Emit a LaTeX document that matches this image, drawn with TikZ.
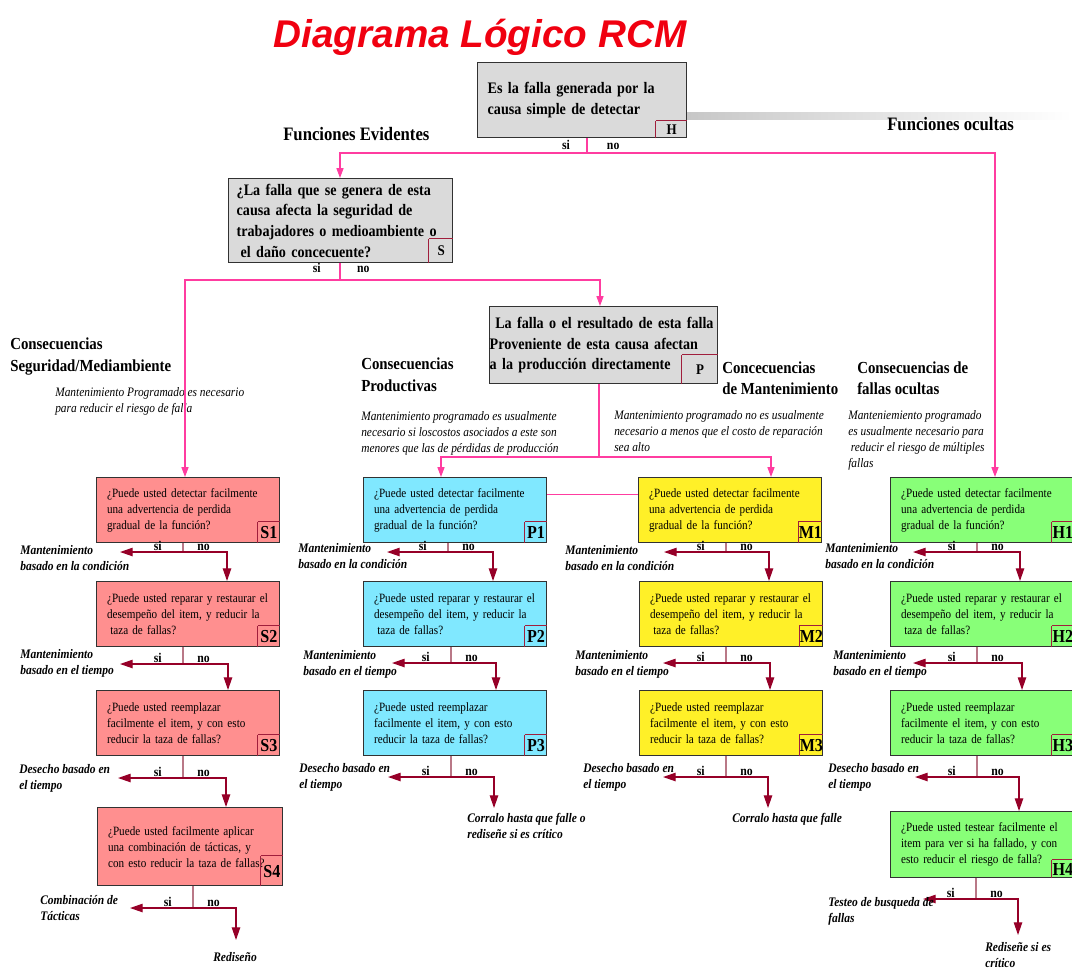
\documentclass[tikz,border=0pt]{standalone}
\usepackage{fontspec}
\setmainfont{Liberation Serif}[FakeStretch=0.88]
\newfontfamily\titlefont{Liberation Sans}
\usetikzlibrary{positioning,arrows.meta}
\definecolor{titlered}{RGB}{240,0,16}
\definecolor{boxedge}{RGB}{50,50,50}
\definecolor{graybox}{RGB}{218,218,218}
\definecolor{salmon}{RGB}{255,143,143}
\definecolor{skyblue}{RGB}{128,232,255}
\definecolor{lemon}{RGB}{255,240,40}
\definecolor{lime}{RGB}{136,255,120}
\definecolor{codeedge}{RGB}{160,30,60}
\definecolor{linkpink}{RGB}{255,60,160}
\definecolor{branchred}{RGB}{150,0,40}
\definecolor{stemgray}{RGB}{185,120,135}
\tikzset{
  title/.style={anchor=base,inner sep=0,text=titlered,font=\titlefont\bfseries\itshape\fontsize{27.5}{27.5}\selectfont},
  box/.style={draw=boxedge,line width=1pt,anchor=north west,align=left},
  gbox/.style={box,fill=graybox,inner ysep=0,font=\bfseries\fontsize{11.4}{14.6}\selectfont},
  qbox/.style={box,inner xsep=0.26cm,text width=4.05cm,minimum height=1.625cm,font=\fontsize{9}{11.4}\selectfont},
  scol/.style={qbox,fill=salmon},
  pcol/.style={qbox,fill=skyblue},
  mcol/.style={qbox,fill=lemon},
  hcol/.style={qbox,fill=lime},
  codeline/.style={draw=codeedge,line width=0.7pt},
  code/.style={anchor=south east,inner sep=0,minimum width=0.55cm,minimum height=0.53cm,
    font=\bfseries\fontsize{13}{13}\selectfont,
    append after command={(\tikzlastnode.south west) edge[codeline] (\tikzlastnode.north west)
      (\tikzlastnode.north west) edge[codeline] (\tikzlastnode.north east)}},
  gcode/.style={code,font=\bfseries\fontsize{10.5}{10.5}\selectfont},
  head/.style={anchor=north west,align=left,inner sep=0,font=\bfseries\fontsize{12}{15.6}\selectfont},
  bighead/.style={head,font=\bfseries\fontsize{13.5}{15.6}\selectfont},
  note/.style={anchor=north west,align=left,inner sep=0,font=\itshape\fontsize{9.2}{11.5}\selectfont},
  result/.style={anchor=north west,align=left,inner sep=0,font=\bfseries\itshape\fontsize{9.3}{11.7}\selectfont},
  yn/.style={inner sep=0,font=\bfseries\fontsize{9.5}{9.5}\selectfont},
  link/.style={draw=linkpink,line width=0.8pt},
  linkarr/.style={link,{Triangle[length=7pt,width=5pt]}-{Triangle[length=7pt,width=5pt]}},
  stem/.style={draw=stemgray,line width=0.9pt},
  branch/.style={draw=branchred,line width=0.9pt,{Triangle[length=9pt,width=6pt]}-{Triangle[length=9pt,width=6pt]}},
}
\begin{document}
\begin{tikzpicture}[x=0.025cm,y=-0.025cm]
\useasboundingbox (0,0) rectangle (1072,969);
\node[title] (title) at (480,47) {Diagrama Lógico RCM};
\shade[left color=black!22,right color=white] (686,112) rectangle (1072,119);

\node[gbox,inner xsep=0.25cm,text width=4.725cm,minimum height=1.875cm] (h) at (477,62) {Es la falla generada por la\\causa simple de detectar};
\node[gcode,minimum width=0.775cm,minimum height=0.425cm] (hc) at (h.south east) {H};
\node[gbox,inner xsep=0.2cm,text width=5.2cm,minimum height=2.1cm] (s) at (228,178) {¿La falla que se genera de esta\\causa afecta la seguridad de\\trabajadores o medioambiente o\\\hspace*{.25em}el daño concecuente?};
\node[gcode,minimum width=0.6cm,minimum height=0.6cm] (sc) at (s.south east) {S};
\node[gbox,inner xsep=0,text width=5.7cm,minimum height=1.925cm] (p) at (489,306) {\hspace*{.35em}La falla o el resultado de esta falla\\Proveniente de esta causa afectan\\a la producción directamente};
\node[gcode,minimum width=0.9cm,minimum height=0.725cm] (pc) at (p.south east) {P};

\node[bighead] (fe) at (283,127) {Funciones Evidentes};
\node[bighead] (fo) at (887,117) {Funciones ocultas};
\node[head] (cs) at (10,338) {Consecuencias\\Seguridad/Mediambiente};
\node[head] (cp) at (361,358) {Consecuencias\\Productivas};
\node[head] (cm) at (722,361) {Concecuencias\\de Mantenimiento};
\node[head] (ch) at (857,361) {Consecuencias de\\fallas ocultas};
\node[note] (sn) at (55,387) {Mantenimiento Programado es necesario\\para reducir el riesgo de falla};
\node[note] (pn) at (361,411) {Mantenimiento programado es usualmente\\necesario si loscostos asociados a este son\\menores que las de pérdidas de producción};
\node[note] (mn) at (614,410) {Mantenimiento programado no es usualmente\\necesario a menos que el costo de reparación\\sea alto};
\node[note] (hn) at (848,410) {Manteniemiento programado\\es usualmente necesario para\\\hspace*{.2em}reducir el riesgo de múltiples\\fallas};

\node[scol] (s1) at (96,477) {¿Puede usted detectar facilmente\\una advertencia de perdida\\gradual de la función?};
\node[scol] (s2) at (96,581) {¿Puede usted reparar y restaurar el\\desempeño del item, y reducir la\\\hspace*{.25em}taza de fallas?};
\node[scol] (s3) at (96,690) {¿Puede usted reemplazar\\facilmente el item, y con esto\\reducir la taza de fallas?};
\node[scol,text width=4.1cm,minimum height=1.95cm] (s4) at (97,807) {¿Puede usted facilmente aplicar\\una combinación de tácticas, y\\con esto reducir la taza de fallas?};
\node[pcol] (p1) at (363,477) {¿Puede usted detectar facilmente\\una advertencia de perdida\\gradual de la función?};
\node[pcol] (p2) at (363,581) {¿Puede usted reparar y restaurar el\\desempeño del item, y reducir la\\\hspace*{.25em}taza de fallas?};
\node[pcol] (p3) at (363,690) {¿Puede usted reemplazar\\facilmente el item, y con esto\\reducir la taza de fallas?};
\node[mcol] (m1) at (638,477) {¿Puede usted detectar facilmente\\una advertencia de perdida\\gradual de la función?};
\node[mcol] (m2) at (639,581) {¿Puede usted reparar y restaurar el\\desempeño del item, y reducir la\\\hspace*{.25em}taza de fallas?};
\node[mcol] (m3) at (639,690) {¿Puede usted reemplazar\\facilmente el item, y con esto\\reducir la taza de fallas?};
\node[hcol] (h1) at (890,477) {¿Puede usted detectar facilmente\\una advertencia de perdida\\gradual de la función?};
\node[hcol] (h2) at (890,581) {¿Puede usted reparar y restaurar el\\desempeño del item, y reducir la\\\hspace*{.25em}taza de fallas?};
\node[hcol] (h3) at (890,690) {¿Puede usted reemplazar\\facilmente el item, y con esto\\reducir la taza de fallas?};
\node[hcol,minimum height=1.65cm] (h4) at (890,811) {¿Puede usted testear facilmente el\\item para ver si ha fallado, y con\\esto reducir el riesgo de falla?};

\node[code] (s1c) at (s1.south east) {S1};
\node[code] (s2c) at (s2.south east) {S2};
\node[code] (s3c) at (s3.south east) {S3};
\node[code,minimum height=0.75cm] (s4c) at (s4.south east) {S4};
\node[code] (p1c) at (p1.south east) {P1};
\node[code] (p2c) at (p2.south east) {P2};
\node[code] (p3c) at (p3.south east) {P3};
\node[code] (m1c) at (m1.south east) {M1};
\node[code] (m2c) at (m2.south east) {M2};
\node[code] (m3c) at (m3.south east) {M3};
\node[code] (h1c) at (h1.south east) {H1};
\node[code] (h2c) at (h2.south east) {H2};
\node[code] (h3c) at (h3.south east) {H3};
\node[code,minimum height=0.45cm] (h4c) at (h4.south east) {H4};

\coordinate (hb) at (587,153);
\coordinate (ev) at (340,153);
\coordinate (oc) at (995,153);
\draw[link] (h.south -| hb) -- (hb);
\draw[linkarr] (s.north -| ev) -- (ev) -- (oc) -- (oc |- h1.north);
\node[yn,above left=2.5pt and 12pt of hb] (hsi) {si};
\node[yn,above right=2.5pt and 14pt of hb] (hno) {no};
\coordinate (sb) at (340,280);
\coordinate (sl) at (185,280);
\coordinate (sr) at (600,280);
\draw[link] (s.south -| sb) -- (sb);
\draw[linkarr] (s1.north -| sl) -- (sl) -- (sr) -- (sr |- p.north);
\node[yn,above left=5pt and 13.5pt of sb] (ssi) {si};
\node[yn,above right=5pt and 12pt of sb] (sno) {no};
\coordinate (pb) at (599,457);
\coordinate (pl) at (441,457);
\coordinate (pr) at (771,457);
\draw[link] (p.south -| pb) -- (pb);
\draw[linkarr] (p1.north -| pl) -- (pl) -- (pr) -- (pr |- m1.north);
\draw[link] ([yshift=0.4cm]p1.east) -- ([yshift=0.4cm]m1.west);

\coordinate (s4e) at (236,940);
\coordinate (p3e) at (494,808);
\coordinate (m3e) at (768,808);
\coordinate (h4e) at (1018,935);
\foreach \bx/\sx/\by/\tx/\rx/\tg in {s1/183/552/120/227/s2.north, s2/183/664/120/228/s3.north,
    s3/183/778/118/226/s4.north, s4/193/908/130/236/s4e, p1/448/552/387/493/p2.north,
    p2/451/663/392/496/p3.north, p3/451/777/388/494/p3e, m1/726/552/664/769/m2.north,
    m2/726/663/663/770/m3.north, m3/726/777/663/768/m3e, h1/977/552/913/1020/h2.north,
    h2/977/663/913/1022/h3.north, h3/977/777/915/1019/h4.north, h4/976/899/923/1018/h4e}{
  \coordinate (b\bx) at (\sx,\by);
  \coordinate (l\bx) at (\tx,\by);
  \coordinate (r\bx) at (\rx,\by);
  \draw[stem] (\bx.south -| b\bx) -- (b\bx);
  \draw[branch] (l\bx) -- (r\bx) -- (r\bx |- \tg);
  \node[yn,above left=1pt and 15pt of b\bx] (si\bx) {si};
  \node[yn,above right=1pt and 10pt of b\bx] (no\bx) {no};
}

\node[result] (s1o) at (20,545) {Mantenimiento\\basado en la condición};
\node[result] (s2o) at (20,649) {Mantenimiento\\basado en el tiempo};
\node[result] (s3o) at (19,764) {Desecho basado en\\el tiempo};
\node[result] (s4o) at (40,895) {Combinación de\\Tácticas};
\node[result] (s4x) at (213,952) {Rediseño};
\node[result] (p1o) at (298,543) {Mantenimiento\\basado en la condición};
\node[result] (p2o) at (303,650) {Mantenimiento\\basado en el tiempo};
\node[result] (p3o) at (299,763) {Desecho basado en\\el tiempo};
\node[result] (p3x) at (467,813) {Corralo hasta que falle o\\rediseñe si es crítico};
\node[result] (m1o) at (565,545) {Mantenimiento\\basado en la condición};
\node[result] (m2o) at (575,650) {Mantenimiento\\basado en el tiempo};
\node[result] (m3o) at (583,763) {Desecho basado en\\el tiempo};
\node[result] (m3x) at (732,813) {Corralo hasta que falle};
\node[result] (h1o) at (825,543) {Mantenimiento\\basado en la condición};
\node[result] (h2o) at (833,650) {Mantenimiento\\basado en el tiempo};
\node[result] (h3o) at (828,763) {Desecho basado en\\el tiempo};
\node[result] (h4o) at (828,897) {Testeo de busqueda de\\fallas};
\node[result] (h4x) at (985,942) {Rediseñe si es\\crítico};
\end{tikzpicture}
\end{document}
